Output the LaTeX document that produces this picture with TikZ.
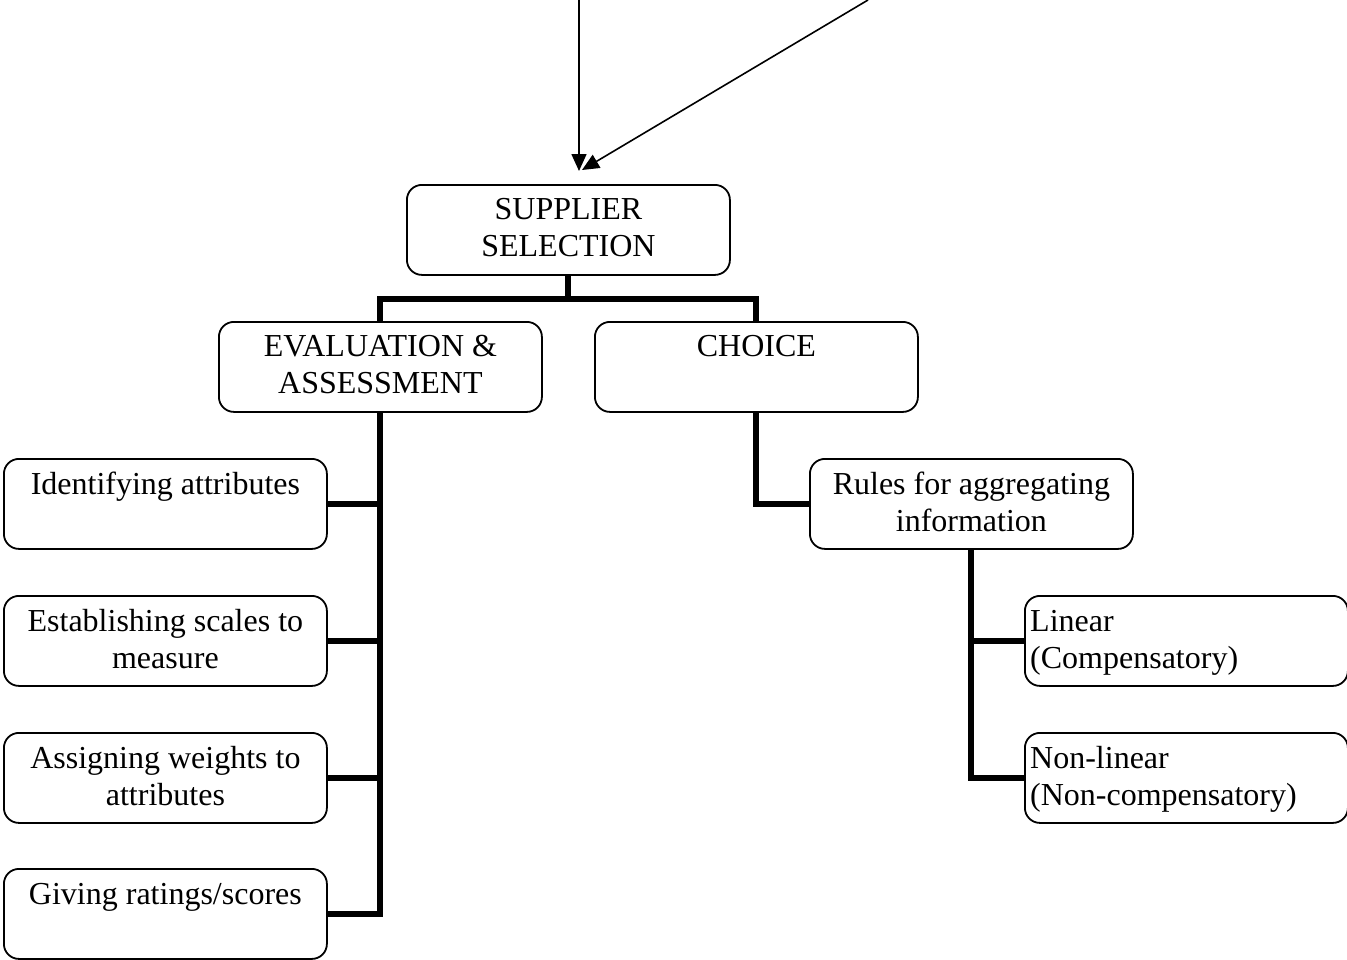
\documentclass[tikz,border=0pt]{standalone}
\usepackage{fontspec}
\setmainfont{Liberation Serif}
\usetikzlibrary{arrows.meta}
\begin{document}
\begin{tikzpicture}[x=1pt,y=-1pt,
  box/.style={draw, line width=1.8pt, rounded corners=15pt, minimum width=323pt, minimum height=90pt, inner sep=0pt, anchor=north west},
  txt/.style={inner sep=0pt, align=center, font=\fontsize{32}{37}\selectfont, anchor=north},
  ltxt/.style={inner sep=0pt, align=left, font=\fontsize{32}{37}\selectfont, anchor=north west},
  conn/.style={line width=6pt},
  arr/.style={line width=1.6pt, -{Triangle[length=17pt,width=15pt]}}]
\useasboundingbox (0,0) rectangle (1347,959);
% boxes
\node[box] (sup) at (406,184) {};
\node[box] (eval) at (218,321) {};
\node[box] (choice) at (594,321) {};
\node[box] (id) at (3,458) {};
\node[box] (scale) at (3,595) {};
\node[box] (wt) at (3,732) {};
\node[box] (rate) at (3,868) {};
\node[box] (rules) at (809,458) {};
\node[box] (lin) at (1024,595) {};
\node[box] (nonlin) at (1024,732) {};
% texts
\node[txt] (supt) at ([yshift=-9pt]sup.north) {\strut SUPPLIER\\SELECTION};
\node[txt] (evalt) at ([yshift=-9pt]eval.north) {\strut EVALUATION \&\\ASSESSMENT};
\node[txt] (choicet) at ([yshift=-9pt]choice.north) {\strut CHOICE};
\node[txt] (idt) at ([yshift=-10pt]id.north) {\strut Identifying attributes};
\node[txt] (scalet) at ([yshift=-10pt]scale.north) {\strut Establishing scales to\\measure};
\node[txt] (wtt) at ([yshift=-10pt]wt.north) {\strut Assigning weights to\\attributes};
\node[txt] (ratet) at ([yshift=-10pt]rate.north) {\strut Giving ratings/scores};
\node[txt] (rulest) at ([yshift=-10pt]rules.north) {\strut Rules for aggregating\\information};
\node[ltxt] (lint) at ([xshift=6pt,yshift=-10pt]lin.north west) {\strut Linear\\(Compensatory)};
\node[ltxt] (nonlint) at ([xshift=6pt,yshift=-10pt]nonlin.north west) {\strut Non-linear\\(Non-compensatory)};
% connectors
\draw[conn] (sup.south) -- ++(0,23) -| (eval.north);
\draw[conn] (sup.south) -- ++(0,23) -| (choice.north);
\draw[conn] (eval.south) |- (id.east);
\draw[conn] (eval.south) |- (scale.east);
\draw[conn] (eval.south) |- (wt.east);
\draw[conn] (eval.south) |- (rate.east);
\draw[conn] (choice.south) |- (rules.west);
\draw[conn] (rules.south) |- (lin.west);
\draw[conn] (rules.south) |- (nonlin.west);
% incoming arrows
\coordinate (a1s) at (579,0);
\coordinate (a1e) at (579,171);
\coordinate (a2s) at (868,0);
\coordinate (a2e) at (582,170);
\draw[arr] (a1s) -- (a1e);
\draw[arr] (a2s) -- (a2e);
\end{tikzpicture}
\end{document}
